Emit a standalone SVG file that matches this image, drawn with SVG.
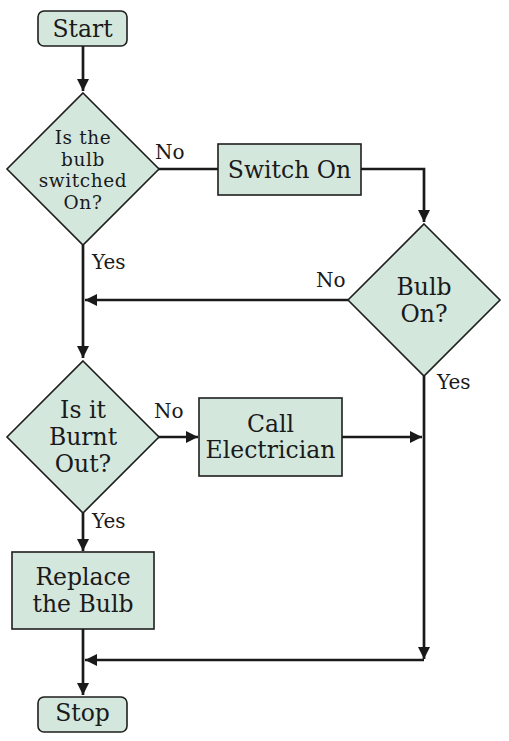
<svg xmlns="http://www.w3.org/2000/svg" width="509" height="741" viewBox="0 0 509 741">
<style>
.shape{fill:#d4e7dd;stroke:#1e1e1e;stroke-width:1.6}
.t{font-family:"DejaVu Serif","Liberation Serif",serif;fill:#1a1a1a;text-anchor:middle}
.big{font-size:23.5px}
.small{font-size:18.5px;letter-spacing:0.6px}
.lbl{font-family:"DejaVu Serif","Liberation Serif",serif;fill:#1a1a1a;font-size:20px}
.c{fill:none;stroke:#1a1a1a;stroke-width:2.7}
</style>
<defs>
<marker id="ah" markerWidth="12" markerHeight="12" refX="12" refY="6" orient="auto" markerUnits="userSpaceOnUse">
<path d="M0,0 L12,6 L0,12 Z" fill="#1a1a1a"/>
</marker>
</defs>
<rect width="509" height="741" fill="#ffffff"/>
<g id="connectors">
<path class="c" d="M83,46 V91" marker-end="url(#ah)"/>
<path class="c" d="M158,169 H218"/>
<path class="c" d="M361,169 H424 V222" marker-end="url(#ah)"/>
<path class="c" d="M348,300 H85" marker-end="url(#ah)"/>
<path class="c" d="M83,245 V358" marker-end="url(#ah)"/>
<path class="c" d="M158,437 H198" marker-end="url(#ah)"/>
<path class="c" d="M342,437 H422" marker-end="url(#ah)"/>
<path class="c" d="M424,376 V659" marker-end="url(#ah)"/>
<path class="c" d="M424,660 H85" marker-end="url(#ah)"/>
<path class="c" d="M83,513 V551" marker-end="url(#ah)"/>
<path class="c" d="M83,629 V695" marker-end="url(#ah)"/>
<text class="lbl" x="155" y="159">No</text>
<text class="lbl" x="92" y="269">Yes</text>
<text class="lbl" x="316" y="287">No</text>
<text class="lbl" x="437" y="389">Yes</text>
<text class="lbl" x="154" y="418">No</text>
<text class="lbl" x="92" y="528">Yes</text>
</g>
<g id="start">
<rect class="shape" x="38" y="11" width="89" height="35" rx="6"/>
<text class="t big" x="82.5" y="37">Start</text>
</g>
<g id="switched">
<path class="shape" d="M83,93 L159,169 L83,245 L7,169 Z"/>
<text class="t small" x="83" y="144">Is the</text>
<text class="t small" x="83" y="166">bulb</text>
<text class="t small" x="83" y="187">switched</text>
<text class="t small" x="83" y="209">On?</text>
</g>
<g id="switchon">
<rect class="shape" x="218" y="144" width="143" height="51"/>
<text class="t big" x="289.5" y="178">Switch On</text>
</g>
<g id="bulbon">
<path class="shape" d="M424,224 L500,300 L424,376 L348,300 Z"/>
<text class="t big" x="424" y="295">Bulb</text>
<text class="t big" x="424" y="322">On?</text>
</g>
<g id="burnt">
<path class="shape" d="M83,361 L159,437 L83,513 L7,437 Z"/>
<text class="t big" x="83" y="418">Is it</text>
<text class="t big" x="83" y="445">Burnt</text>
<text class="t big" x="83" y="472">Out?</text>
</g>
<g id="electrician">
<rect class="shape" x="199" y="398" width="143" height="78"/>
<text class="t big" x="270.5" y="432">Call</text>
<text class="t big" x="270.5" y="458">Electrician</text>
</g>
<g id="replace">
<rect class="shape" x="12" y="552" width="142" height="77"/>
<text class="t big" x="83" y="585">Replace</text>
<text class="t big" x="83" y="612">the Bulb</text>
</g>
<g id="stop">
<rect class="shape" x="38" y="697" width="89" height="35" rx="6"/>
<text class="t big" x="82.5" y="721">Stop</text>
</g>
</svg>
